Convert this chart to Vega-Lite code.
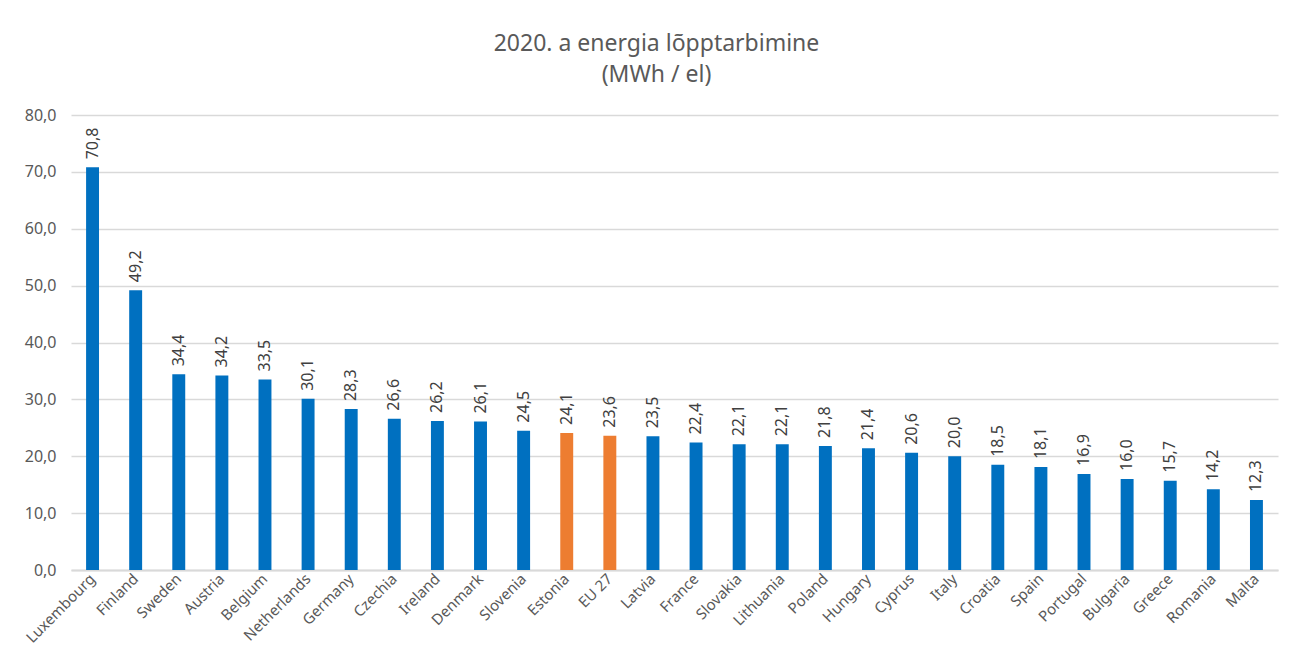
{
  "$schema": "https://vega.github.io/schema/vega-lite/v6.json",
  "width": 1207,
  "height": 455,
  "autosize": {"type": "none"},
  "padding": {"left": 71, "top": 115, "right": 28, "bottom": 93},
  "background": "white",
  "config": {
    "locale": {"number": {"decimal": ",", "thousands": " ", "grouping": [3], "currency": ["", " €"]}},
    "font": "Noto Sans",
    "view": {"stroke": null}
  },
  "title": {
    "text": ["2020. a energia lõpptarbimine", "(MWh / el)"],
    "fontSize": 23,
    "fontWeight": "normal",
    "color": "#595959",
    "font": "Noto Sans",
    "lineHeight": 31,
    "offset": 20,
    "dx": -18,
    "anchor": "middle"
  },
  "data": {
    "values": [
      {"country": "Luxembourg", "value": 70.8},
      {"country": "Finland", "value": 49.2},
      {"country": "Sweden", "value": 34.4},
      {"country": "Austria", "value": 34.2},
      {"country": "Belgium", "value": 33.5},
      {"country": "Netherlands", "value": 30.1},
      {"country": "Germany", "value": 28.3},
      {"country": "Czechia", "value": 26.6},
      {"country": "Ireland", "value": 26.2},
      {"country": "Denmark", "value": 26.1},
      {"country": "Slovenia", "value": 24.5},
      {"country": "Estonia", "value": 24.1},
      {"country": "EU 27", "value": 23.6},
      {"country": "Latvia", "value": 23.5},
      {"country": "France", "value": 22.4},
      {"country": "Slovakia", "value": 22.1},
      {"country": "Lithuania", "value": 22.1},
      {"country": "Poland", "value": 21.8},
      {"country": "Hungary", "value": 21.4},
      {"country": "Cyprus", "value": 20.6},
      {"country": "Italy", "value": 20.0},
      {"country": "Croatia", "value": 18.5},
      {"country": "Spain", "value": 18.1},
      {"country": "Portugal", "value": 16.9},
      {"country": "Bulgaria", "value": 16.0},
      {"country": "Greece", "value": 15.7},
      {"country": "Romania", "value": 14.2},
      {"country": "Malta", "value": 12.3}
    ]
  },
  "encoding": {
    "x": {
      "field": "country",
      "type": "nominal",
      "sort": null,
      "scale": {"paddingInner": 0.7, "paddingOuter": 0.35},
      "axis": {
        "title": null,
        "labelAngle": -45,
        "labelAlign": "right",
        "labelBaseline": "middle",
        "labelFontSize": 15,
        "labelColor": "#595959",
        "labelPadding": 6,
        "ticks": false,
        "domainColor": "#D9D9D9",
        "domainWidth": 2
      }
    },
    "y": {
      "field": "value",
      "type": "quantitative",
      "scale": {"domain": [0, 80]},
      "axis": {
        "title": null,
        "values": [0, 10, 20, 30, 40, 50, 60, 70, 80],
        "format": ".1f",
        "labelFontSize": 16,
        "labelColor": "#595959",
        "labelPadding": 15,
        "ticks": false,
        "domain": false,
        "gridColor": "#D9D9D9",
        "gridWidth": 1.5
      }
    }
  },
  "layer": [
    {
      "mark": {"type": "bar"},
      "encoding": {
        "color": {
          "condition": {"test": "datum.country === 'Estonia' || datum.country === 'EU 27'", "value": "#ED7D31"},
          "value": "#0070C0"
        }
      }
    },
    {
      "mark": {"type": "text", "angle": 270, "align": "left", "baseline": "middle", "dx": 8, "fontSize": 16, "color": "#404040"},
      "encoding": {
        "text": {"field": "value", "type": "quantitative", "format": ".1f"}
      }
    }
  ]
}
